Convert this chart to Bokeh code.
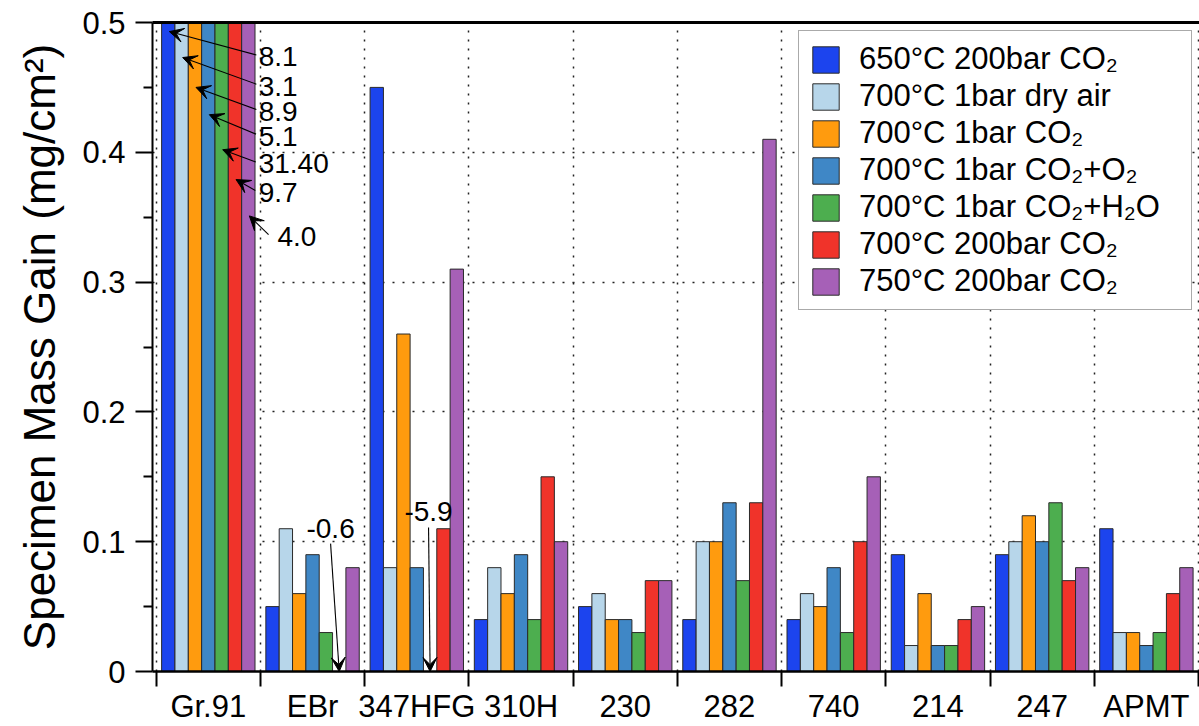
from bokeh.plotting import figure
from bokeh.models import (ColumnDataSource, FixedTicker, LinearAxis, Range1d, Arrow,
                          VeeHead, Legend, LegendItem, CustomJSTickFormatter)
from bokeh.embed import file_html
from bokeh.resources import INLINE
from bokeh.core.properties import value

# ---------------- data ----------------
categories = ["Gr.91", "EBr", "347HFG", "310H", "230", "282", "740", "214", "247", "APMT"]
series_names = ["650°C 200bar CO₂", "700°C 1bar dry air", "700°C 1bar CO₂",
                "700°C 1bar CO₂+O₂", "700°C 1bar CO₂+H₂O", "700°C 200bar CO₂",
                "750°C 200bar CO₂"]
s650_200bar_co2 = [8.1, 0.05, 0.45, 0.04, 0.05, 0.04, 0.04, 0.09, 0.09, 0.11]
s700_1bar_air   = [3.1, 0.11, 0.08, 0.08, 0.06, 0.10, 0.06, 0.02, 0.10, 0.03]
s700_1bar_co2   = [8.9, 0.06, 0.26, 0.06, 0.04, 0.10, 0.05, 0.06, 0.12, 0.03]
s700_1bar_o2    = [5.1, 0.09, 0.08, 0.09, 0.04, 0.13, 0.08, 0.02, 0.10, 0.02]
s700_1bar_h2o   = [31.40, 0.03, -5.9, 0.04, 0.03, 0.07, 0.03, 0.02, 0.13, 0.03]
s700_200bar_co2 = [9.7, -0.6, 0.11, 0.15, 0.07, 0.13, 0.10, 0.04, 0.07, 0.06]
s750_200bar_co2 = [4.0, 0.08, 0.31, 0.10, 0.07, 0.41, 0.15, 0.05, 0.08, 0.08]
series = [s650_200bar_co2, s700_1bar_air, s700_1bar_co2, s700_1bar_o2,
          s700_1bar_h2o, s700_200bar_co2, s750_200bar_co2]
y_ticks = [0, 0.1, 0.2, 0.3, 0.4, 0.5]

# off-scale value labels for Gr.91 (text as printed on chart)
gr91_labels = ["8.1", "3.1", "8.9", "5.1", "31.40", "9.7", "4.0"]
# negative values (category index, series index, label)
neg_labels = [(1, 5, "-0.6"), (2, 4, "-5.9")]

# ---------------- style / layout ----------------
colors = ["#1c44ee", "#b7d6ea", "#ff9b0e", "#3f87c6", "#4dae4f", "#f0332a", "#a660b7"]
FONT = "Liberation Sans"
bar_w = 0.128
n_ser = len(series)

# annotation layout (positions in data units)
gr91_label_x = [0.983, 0.983, 0.983, 0.983, 0.983, 0.983, 1.163]
gr91_label_y = [0.4735, 0.451, 0.4315, 0.4125, 0.391, 0.369, 0.335]
gr91_tip_y = [0.493, 0.473, 0.450, 0.429, 0.402, 0.379, 0.351]
gr91_tail_dx = [0.022, 0.022, 0.022, 0.025, 0.028, 0.032, 0.085]
neg_label_pos = [(1.673, 0.1105), (2.613, 0.123)]

p = figure(width=1199, height=726, output_backend="svg", toolbar_location=None,
           x_range=Range1d(-0.0355, 10.0095), y_range=Range1d(0, 0.5),
           min_border_left=152, min_border_right=0, min_border_top=22,
           min_border_bottom=54)
p.outline_line_color = None
p.background_fill_color = "white"
p.border_fill_color = "white"

# bars
renderers = []
for j, vals in enumerate(series):
    xs = [i + 0.5 + (j - (n_ser - 1) / 2) * bar_w for i in range(len(categories))]
    src = ColumnDataSource(dict(x=xs, top=vals))
    r = p.vbar(x="x", top="top", bottom=0, width=bar_w, source=src,
               fill_color=colors[j], line_color="#2a2a2a", line_width=1)
    renderers.append(r)

def bar_center(i, j):
    return i + 0.5 + (j - (n_ser - 1) / 2) * bar_w

# Gr.91 arrows and labels
arr_src = ColumnDataSource(dict(
    xs=[gr91_label_x[k] - gr91_tail_dx[k] for k in range(n_ser)],
    ys=[gr91_label_y[k] + 0.0015 for k in range(n_ser)],
    xe=[bar_center(0, k) + 0.01 for k in range(n_ser)],
    ye=gr91_tip_y))
p.add_layout(Arrow(end=VeeHead(size=14, fill_color="black", line_color="black", line_width=1),
                   x_start="xs", y_start="ys", x_end="xe", y_end="ye", source=arr_src,
                   line_color="black", line_width=1.1))
p.text(x=gr91_label_x, y=gr91_label_y, text=gr91_labels, text_font=value(FONT),
       text_font_size="28px", text_align="left", text_baseline="middle", text_color="black")

# negative value arrows
neg_src = ColumnDataSource(dict(
    xs=[pos[0] for pos in neg_label_pos],
    ys=[pos[1] - 0.012 for pos in neg_label_pos],
    xe=[bar_center(i, j) for i, j, _ in neg_labels],
    ye=[0, 0]))
p.add_layout(Arrow(end=VeeHead(size=14, fill_color="black", line_color="black", line_width=1),
                   x_start="xs", y_start="ys", x_end="xe", y_end="ye", source=neg_src,
                   line_color="black", line_width=1.1))
p.text(x=[pos[0] for pos in neg_label_pos], y=[pos[1] for pos in neg_label_pos],
       text=[t for _, _, t in neg_labels], text_font=value(FONT), text_font_size="28px",
       text_align="center", text_baseline="middle", text_color="black")

# x axis: labels at centres, ticks at boundaries (minor)
centers = [i + 0.5 for i in range(len(categories))]
bounds = list(range(len(categories) + 1))
xax = p.xaxis[0]
xax.ticker = FixedTicker(ticks=centers, minor_ticks=bounds)
xax.major_label_overrides = {c: name for c, name in zip(centers, categories)}
xax.major_tick_line_color = None
xax.major_tick_out = 0
xax.major_tick_in = 0
xax.minor_tick_out = 15
xax.minor_tick_in = 0
xax.minor_tick_line_width = 2
xax.minor_tick_line_color = "black"
xax.axis_line_width = 2.5
xax.axis_line_color = "black"
xax.major_label_text_font = FONT
xax.major_label_text_font_size = "31px"
xax.major_label_text_color = "black"
xax.major_label_standoff = 2

# y axis
yax = p.yaxis[0]
yax.ticker = FixedTicker(ticks=y_ticks, minor_ticks=[0.05, 0.15, 0.25, 0.35, 0.45])
yax.formatter = CustomJSTickFormatter(code="return String(Math.round(tick*10)/10)")
yax.major_tick_out = 17
yax.major_tick_in = 0
yax.major_tick_line_width = 2
yax.minor_tick_out = 9
yax.minor_tick_in = 0
yax.minor_tick_line_width = 2
yax.axis_line_width = 2
yax.major_label_text_font = FONT
yax.major_label_text_font_size = "31px"
yax.major_label_text_color = "black"
yax.major_label_standoff = 10
yax.axis_label = "Specimen Mass Gain (mg/cm²)"
yax.axis_label_text_font = FONT
yax.axis_label_text_font_size = "44px"
yax.axis_label_text_font_style = "normal"
yax.axis_label_text_color = "black"
yax.axis_label_standoff = 15

# top border line
top = LinearAxis(ticker=FixedTicker(ticks=[]), axis_line_width=3, axis_line_color="black",
                 major_tick_line_color=None, minor_tick_line_color=None,
                 major_label_text_font_size="0px")
p.add_layout(top, "above")

# grids (dotted)
p.xgrid.ticker = FixedTicker(ticks=bounds)
p.xgrid.grid_line_color = "#222222"
p.xgrid.grid_line_dash = "2 7"
p.xgrid.grid_line_width = 1.5
p.ygrid.ticker = FixedTicker(ticks=[0.1, 0.2, 0.3, 0.4])
p.ygrid.grid_line_color = "#222222"
p.ygrid.grid_line_dash = "2 8"
p.ygrid.grid_line_width = 1.5

# legend
legend = Legend(items=[LegendItem(label=n, renderers=[r]) for n, r in zip(series_names, renderers)],
                location=(646, 361), margin=0)
legend.label_text_font = FONT
legend.label_text_font_size = "31px"
legend.label_text_color = "black"
legend.glyph_width = 33
legend.glyph_height = 33
legend.label_height = 33
legend.label_width = 322
legend.label_standoff = 17
legend.padding = 10
legend.spacing = 1
legend.border_line_color = "#555555"
legend.border_line_width = 1
legend.background_fill_color = "white"
legend.background_fill_alpha = 1
p.add_layout(legend)

open("out.html", "w").write(file_html(p, INLINE))
